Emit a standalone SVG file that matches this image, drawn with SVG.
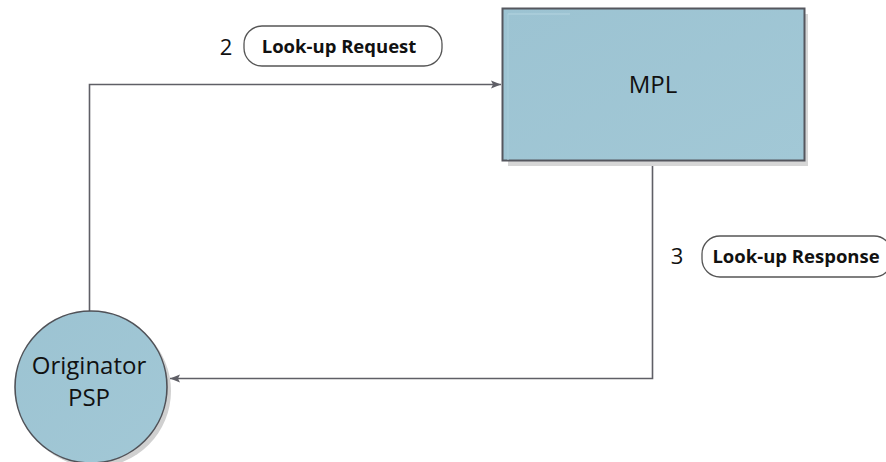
<svg xmlns="http://www.w3.org/2000/svg" width="886" height="462" viewBox="0 0 886 462">
<defs>
<style>
.conn{fill:none;stroke:#5f5f66;stroke-width:1.6}
.node-text{font-family:"Open Sans","Noto Sans",sans-serif;font-size:24px;fill:#111;text-anchor:middle}
.num{font-family:"Open Sans","Noto Sans",sans-serif;font-size:22px;fill:#111;text-anchor:middle}
.lbl{font-family:"Open Sans","Noto Sans",sans-serif;font-size:18.5px;font-weight:700;fill:#111;text-anchor:middle}
.pill{fill:#fff;stroke:#555;stroke-width:1.3}
.shadow{fill:#d6d6d6}
</style>
<linearGradient id="fillg" x1="0" y1="0" x2="1" y2="1">
<stop offset="0" stop-color="#9cc3d2"/>
<stop offset="1" stop-color="#a2c8d6"/>
</linearGradient>
<marker id="arr" viewBox="0 0 10 10" refX="10" refY="5" markerWidth="10" markerHeight="10" markerUnits="userSpaceOnUse" orient="auto">
<path d="M0,1 L10,5 L0,9 L2,5 Z" fill="#5f5f66"/>
</marker>
</defs>
<g id="connectors">
<path class="conn" d="M89.5,311 V84.5 H501" marker-end="url(#arr)"/>
<path class="conn" d="M652.5,161 V378.5 H170" marker-end="url(#arr)"/>
</g>
<g id="node-mpl">
<rect class="shadow" x="508" y="14" width="300" height="152"/>
<rect x="502.5" y="8.5" width="302" height="152" fill="url(#fillg)" stroke="#55575e" stroke-width="2"/>
<path d="M508,14 H570" stroke="#b4d4e0" stroke-width="1" fill="none"/>
<path d="M508,14 V160" stroke="#a8cdda" stroke-width="1" fill="none"/>
<text class="node-text" x="653" y="93">MPL</text>
</g>
<g id="node-originator">
<circle cx="95" cy="391" r="76" fill="#d0d0d0"/>
<circle cx="91" cy="387" r="76" fill="url(#fillg)" stroke="#505258" stroke-width="1.6"/>
<text class="node-text" x="89" y="374">Originator</text>
<text class="node-text" x="89" y="406">PSP</text>
</g>
<g id="label-request">
<text class="num" x="226" y="55">2</text>
<rect class="pill" x="244" y="26" width="198" height="40" rx="18"/>
<text class="lbl" x="339" y="53">Look-up Request</text>
</g>
<g id="label-response">
<text class="num" x="677" y="264">3</text>
<rect class="pill" x="702" y="236" width="190" height="41" rx="18"/>
<text class="lbl" x="796" y="263">Look-up Response</text>
</g>
</svg>
